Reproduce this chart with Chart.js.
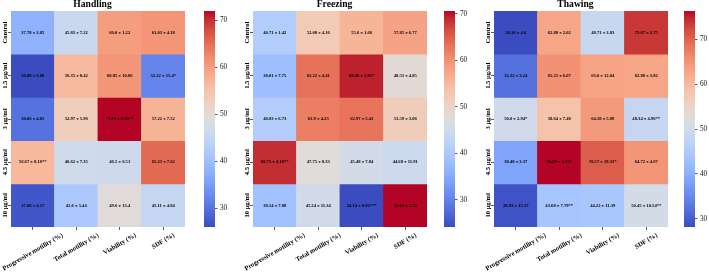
<!DOCTYPE html>
<html><head><meta charset="utf-8">
<script src="https://cdn.jsdelivr.net/npm/chart.js@4.4.1/dist/chart.umd.min.js"></script>
<style>
html,body{margin:0;padding:0;background:#fff;overflow:hidden;width:709px;height:272px;position:relative;}
canvas{position:absolute;top:0;}
</style></head><body>
<script>
// ---------- data ----------
const rowLabels = ['Control', '1.5 μg/ml', '3 μg/ml', '4.5 μg/ml', '10 μg/ml'];
const colLabels = ['Progressive motility (%)', 'Total motility (%)', 'Viability (%)', 'SDF (%)'];
const panelTitles = ['Handling', 'Freezing', 'Thawing'];

const handlingMean = [[37.78, 45.83, 60.0, 61.03], [26.09, 56.35, 60.85, 32.22], [30.06, 52.97, 71.93, 57.22], [56.67, 46.62, 46.5, 65.23], [27.08, 41.6, 49.6, 45.11]];
const handlingSD   = [[3.85, 7.22, 1.22, 4.18], [3.08, 8.42, 10.86, 15.4], [4.05, 5.96, 0.68, 7.52], [8.16, 7.35, 6.51, 7.62], [4.17, 5.44, 13.4, 4.84]];
const handlingSig  = [['', '', '', ''], ['', '', '', '*'], ['', '', '**', ''], ['**', '', '', ''], ['', '', '', '']];

const freezingMean = [[40.71, 52.08, 55.6, 57.85], [38.01, 63.22, 69.48, 48.53], [40.83, 61.9, 62.97, 51.59], [68.75, 47.75, 45.48, 44.68], [38.54, 45.24, 24.14, 70.63]];
const freezingSD   = [[1.42, 4.16, 1.66, 6.77], [7.75, 4.41, 5.85, 4.85], [6.73, 4.23, 5.41, 3.06], [4.16, 8.33, 7.84, 11.91], [7.88, 11.34, 8.02, 3.72]];
const freezingSig  = [['', '', '', ''], ['', '', '*', ''], ['', '', '', ''], ['**', '', '', ''], ['', '', '***', '']];

const thawingMean = [[28.18, 62.88, 48.71, 73.67], [32.22, 65.25, 63.0, 62.88], [50.0, 58.64, 64.18, 48.34], [38.48, 76.29, 70.57, 64.72], [28.93, 43.68, 44.22, 50.45]];
const thawingSD   = [[4.6, 2.02, 3.83, 3.75], [3.24, 6.07, 12.04, 3.82], [2.94, 7.48, 5.89, 4.96], [3.37, 1.73, 19.33, 4.67], [13.17, 7.79, 11.39, 10.54]];
const thawingSig  = [['', '', '', ''], ['', '', '', ''], ['*', '', '', '**'], ['', '*', '*', ''], ['', '**', '', '**']];

// ---------- style / layout ----------
const SERIF = '"Liberation Serif", "Times New Roman", serif';
const hmLeft = [0, 242, 483];
const cbLeft = [196, 436, 676];

// matplotlib coolwarm
const CW = {
  r: [0.2298057,0.26623388,0.30386891,0.342804478,0.38301334,0.424369608,0.46666708,0.509635204,0.552953156,0.596262162,0.639176211,0.681291281,0.722193294,0.761464949,0.798691636,0.833466556,0.865395197,0.897787179,0.924127593,0.944468518,0.958852946,0.96732803,0.969954137,0.966811177,0.958003065,0.943660866,0.923944917,0.89904617,0.869186849,0.834620542,0.795631745,0.752534934,0.705673158],
  g: [0.298717966,0.353094838,0.406535296,0.458757618,0.50941904,0.558148092,0.604562568,0.648280772,0.688929332,0.726149107,0.759599947,0.788964712,0.813952739,0.834302879,0.849786142,0.860207984,0.86541021,0.848937047,0.827384882,0.800927443,0.769767752,0.734132809,0.694266682,0.650421156,0.602842431,0.551750968,0.49730856,0.439559467,0.378313092,0.312874446,0.24128379,0.157246067,0.01555616],
  b: [0.753683153,0.801466763,0.84495867,0.883725899,0.917387822,0.945619588,0.968154911,0.98478814,0.995375608,0.999836203,0.998151185,0.990363227,0.976574709,0.956945269,0.931688648,0.901068838,0.865395561,0.820880546,0.774508472,0.726736146,0.678007945,0.628751763,0.579375448,0.530263762,0.481775914,0.434243684,0.387970225,0.343229596,0.300267182,0.259301199,0.220525627,0.184115123,0.150232812]
};
function coolwarm(t) {
  t = Math.max(0, Math.min(1, t));
  const p = t * 32, i = Math.min(31, Math.floor(p)), f = p - i;
  const c = k => Math.round(255 * (CW[k][i] + (CW[k][i + 1] - CW[k][i]) * f));
  return `rgb(${c('r')},${c('g')},${c('b')})`;
}
function fmt(v) { return Number.isInteger(v) ? v.toFixed(1) : String(v); }

Chart.defaults.font.family = SERIF;

function annotPlugin(mean, sd, sig) {
  return {
    id: 'annot',
    afterDatasetsDraw(chart) {
      const ctx = chart.ctx;
      ctx.save();
      ctx.font = 'bold 4.6px ' + SERIF;
      ctx.fillStyle = '#000';
      ctx.textAlign = 'center';
      ctx.textBaseline = 'middle';
      chart.data.datasets.forEach((ds, r) => {
        chart.getDatasetMeta(r).data.forEach((el, c) => {
          ctx.fillText(fmt(mean[r][c]) + ' ± ' + fmt(sd[r][c]) + sig[r][c], el.x, (el.y + el.base) / 2);
        });
      });
      ctx.restore();
    }
  };
}

const labelPlugin = {
  id: 'axisLabels',
  afterDraw(chart) {
    const ctx = chart.ctx, xs = chart.scales.x, ys = chart.scales.y, area = chart.chartArea;
    const fs = 6.6;
    ctx.save();
    ctx.font = 'bold ' + fs + 'px ' + SERIF;
    ctx.fillStyle = '#000';
    ctx.textAlign = 'center';
    ctx.textBaseline = 'middle';
    const th = Math.PI / 6;
    xs.ticks.forEach((t, i) => {
      const label = xs.getLabels()[i];
      const L = ctx.measureText(label).width;
      const bh = L * Math.sin(th) + fs * Math.cos(th);
      const x = xs.getPixelForTick(i);
      const y = area.bottom + 5 + bh / 2;
      ctx.save();
      ctx.translate(x, y);
      ctx.rotate(-th);
      ctx.fillText(label, 0, 0);
      ctx.restore();
    });
    ys.ticks.forEach((t, i) => {
      const y = ys.getPixelForTick(i);
      ctx.save();
      ctx.translate(area.left - 6, y);
      ctx.rotate(-Math.PI / 2);
      ctx.fillText(t.label, 0, 0);
      ctx.restore();
    });
    ctx.restore();
  }
};

function makePanel(idx, mean, sd, sig) {
  const flat = mean.flat();
  const vmin = Math.min(...flat), vmax = Math.max(...flat);

  const cv = document.createElement('canvas');
  cv.width = 196; cv.height = 272; cv.style.left = hmLeft[idx] + 'px';
  document.body.appendChild(cv);
  const datasets = mean.map((row, r) => ({
    data: row.map(() => [r, r + 1]),
    backgroundColor: row.map(v => coolwarm((v - vmin) / (vmax - vmin))),
    borderWidth: 0, barPercentage: 1, categoryPercentage: 1, grouped: false, inflateAmount: 0.4
  }));
  const tickGrid = { display: true, offset: false, drawOnChartArea: false, drawTicks: true, tickLength: 3, color: '#333', lineWidth: 0.8 };
  new Chart(cv, {
    type: 'bar',
    data: { labels: colLabels, datasets },
    options: {
      responsive: false, animation: false, devicePixelRatio: 1,
      layout: { padding: { left: 0, right: 11, top: 0, bottom: 0 } },
      plugins: {
        legend: { display: false }, tooltip: { enabled: false },
        title: { display: true, text: panelTitles[idx], color: '#000',
          font: { family: SERIF, size: 9.6, weight: 'bold', lineHeight: '9px' }, padding: { top: 0, bottom: 2 } }
      },
      scales: {
        x: { type: 'category', offset: true, grid: tickGrid, border: { display: false },
          ticks: { display: false, autoSkip: false }, afterFit: s => { s.height = 45; } },
        y: { type: 'linear', min: 0, max: 5, reverse: true, grid: tickGrid, border: { display: false },
          ticks: { display: false, callback: (v, i) => rowLabels[i] },
          afterBuildTicks: s => { s.ticks = rowLabels.map((_, i) => ({ value: i + 0.5 })); },
          afterFit: s => { s.width = 11; } }
      }
    },
    plugins: [annotPlugin(mean, sd, sig), labelPlugin]
  });

  const cb = document.createElement('canvas');
  cb.width = 44; cb.height = 272; cb.style.left = cbLeft[idx] + 'px';
  document.body.appendChild(cb);
  new Chart(cb, {
    type: 'bar',
    data: { labels: [''], datasets: [{
      data: [[vmin, vmax]],
      backgroundColor: c => {
        const a = c.chart.chartArea;
        if (!a) return '#ccc';
        const g = c.chart.ctx.createLinearGradient(0, a.bottom, 0, a.top);
        for (let i = 0; i <= 32; i++) g.addColorStop(i / 32, coolwarm(i / 32));
        return g;
      },
      borderWidth: 0, barPercentage: 1, categoryPercentage: 1, inflateAmount: 0
    }] },
    options: {
      responsive: false, animation: false, devicePixelRatio: 1,
      layout: { padding: { left: 8, top: 11, bottom: 45, right: 0 } },
      plugins: { legend: { display: false }, tooltip: { enabled: false } },
      scales: {
        x: { display: false },
        y: { position: 'right', min: vmin, max: vmax, border: { display: false },
          grid: { drawOnChartArea: false, drawTicks: true, tickLength: 2.5, color: '#333', lineWidth: 0.8 },
          ticks: { stepSize: 10, includeBounds: false, padding: 2.5, color: '#111', font: { family: SERIF, size: 7.2 } },
          afterFit: s => { s.width = 25; } }
      }
    }
  });
}

makePanel(0, handlingMean, handlingSD, handlingSig);
makePanel(1, freezingMean, freezingSD, freezingSig);
makePanel(2, thawingMean, thawingSD, thawingSig);
</script>
</body></html>
